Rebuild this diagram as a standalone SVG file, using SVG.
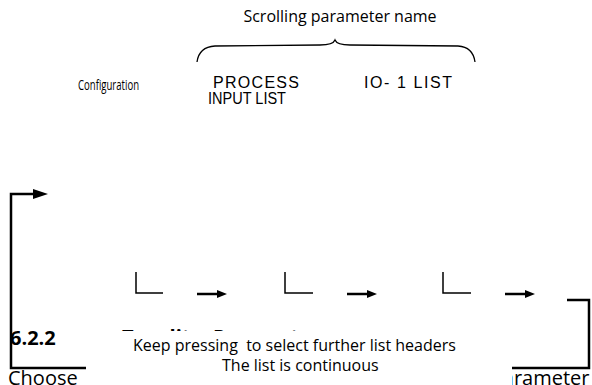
<svg xmlns="http://www.w3.org/2000/svg" width="592" height="385" viewBox="0 0 592 385">
<defs>
<style>
.sans{font-family:"Open Sans","Noto Sans",sans-serif;fill:#000}
.arial{font-family:"Liberation Sans",Arial,sans-serif;fill:#000;font-size:16px}
.ln{stroke:#000;fill:none;stroke-linecap:butt}
</style>
<marker id="ah" viewBox="0 0 10 8" refX="0" refY="4" markerWidth="10" markerHeight="8" markerUnits="userSpaceOnUse" orient="auto">
<path d="M0,0 L10,4 L0,8 Z" fill="#000"/>
</marker>
<marker id="ahBig" viewBox="0 0 15 10" refX="0" refY="5" markerWidth="15" markerHeight="10" markerUnits="userSpaceOnUse" orient="auto">
<path d="M0,0 L15,5 L0,10 Z" fill="#000"/>
</marker>
</defs>
<rect width="592" height="385" fill="#fff"/>

<!-- background document text, partly hidden by the text box -->
<g id="page-text">
<text class="sans" x="10" y="345" font-size="20" font-weight="bold">6.2.2</text>
<text class="sans" x="122" y="343.5" font-size="20" font-weight="bold">To edit a Parameter</text>
<text class="sans" x="8" y="385" font-size="20">Choose</text>
<text class="sans" x="490.6" y="385" font-size="20">parameter</text>
</g>

<g id="caption-box">
<rect x="86" y="331" width="426" height="54" fill="#fff"/>
<text class="sans" x="133" y="351" font-size="16" xml:space="preserve">Keep pressing  to select further list headers</text>
<text class="sans" x="222" y="371" font-size="16">The list is continuous</text>
</g>

<g id="scroll-label">
<text class="sans" x="340" y="22" font-size="16" text-anchor="middle">Scrolling parameter name</text>
<path class="ln" stroke-width="1.3" d="M197,62 Q199,47 215,46 L320,45 Q333,45 335,40 Q337,45 350,45 L458,46 Q473,47 475,62"/>
</g>

<g id="configuration">
<text class="sans" x="78" y="90" font-size="14" textLength="61" lengthAdjust="spacingAndGlyphs">Configuration</text>
</g>

<g id="process-input-list">
<text class="arial" x="213" y="88" textLength="86" lengthAdjust="spacing">PROCESS</text>
<text class="arial" x="208" y="104" textLength="78" lengthAdjust="spacingAndGlyphs">INPUT LIST</text>
</g>

<g id="io-1-list">
<text class="arial" x="364" y="88" textLength="88" lengthAdjust="spacing">IO- 1 LIST</text>
</g>

<g id="key-1"><path class="ln" stroke-width="1.5" d="M136,272 V293 H163"/></g>
<g id="key-2"><path class="ln" stroke-width="1.5" d="M285,272 V293 H313"/></g>
<g id="key-3"><path class="ln" stroke-width="1.5" d="M443,272 V293 H471"/></g>

<g id="connectors">
<path class="ln" stroke-width="2.5" d="M197,294 H217" marker-end="url(#ah)"/>
<path class="ln" stroke-width="2.5" d="M347,294 H367" marker-end="url(#ah)"/>
<path class="ln" stroke-width="2.5" d="M505,294 H525" marker-end="url(#ah)"/>
<path class="ln" stroke-width="2.5" d="M512,368 H589 V300 H567"/>
<path class="ln" stroke-width="2.5" d="M86,368 H11 V194 H33" marker-end="url(#ahBig)"/>
</g>
</svg>
